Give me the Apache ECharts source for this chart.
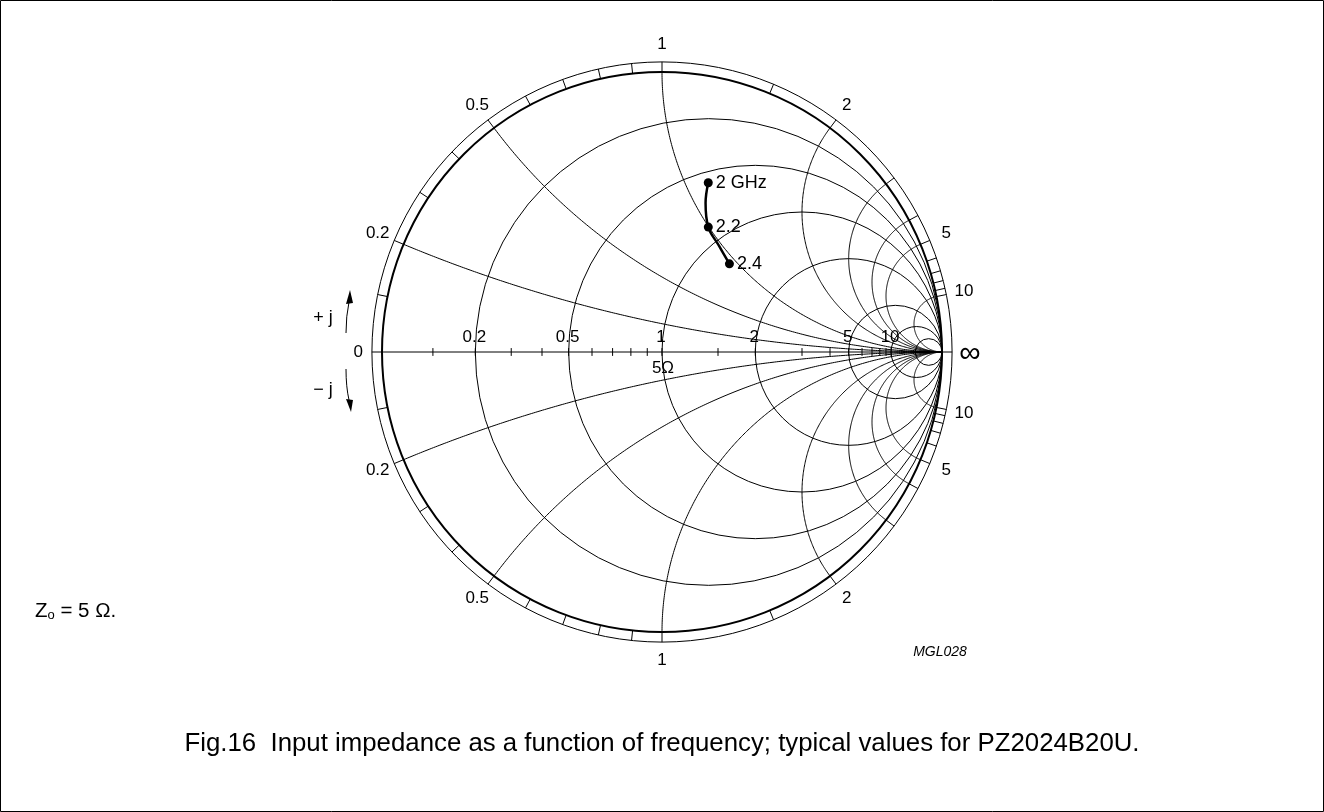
<!DOCTYPE html>
<html>
<head>
<meta charset="utf-8">
<style>
  html, body { margin: 0; padding: 0; background: #fff; }
  #chart { width: 1324px; height: 812px; }
</style>
<script src="https://cdn.jsdelivr.net/npm/echarts@6/dist/echarts.min.js"></script>
</head>
<body>
<div id="chart"></div>
<script>
// reference impedance (ohm)
var Z0 = 5;
// smith grid, normalised values
var resistances = [0.2, 0.5, 1, 2, 5, 10, 20];
var reactances = [0.2, 0.5, 1, 2, 3, 4, 5, 10];
var axisTicks = [0.1, 0.2, 0.3, 0.4, 0.5, 0.6, 0.7, 0.8, 0.9, 1, 1.5, 2, 3, 4, 5, 6, 7, 8, 9, 10];
var axisLabels = [0.2, 0.5, 1, 2, 5, 10];
var ringTicks = [0.1, 0.2, 0.3, 0.4, 0.5, 0.6, 0.7, 0.8, 0.9, 1, 1.5, 2, 3, 4, 5, 6, 7, 8, 9, 10];
var ringLabels = [0.2, 0.5, 1, 2, 5, 10];
// input impedance trace (ohm), '' = unlabelled point
var freqLabels = ['2 GHz', '', '2.2', '', '2.4'];
var inR = [2.86, 3.48, 4.32, 5.19, 6.24];
var inX = [5.69, 5.34, 4.98, 4.88, 4.66];

var RING = 1.036;   // outer ring radius
var LAB = 1.1;      // ring label radius
var TICK = 0.014;
var FONT = "'Liberation Sans', Arial, sans-serif";

// z = r + jx  ->  reflection coefficient
function gamma(r, x) {
  var d = (r + 1) * (r + 1) + x * x;
  return [(r * r - 1 + x * x) / d, 2 * x / d];
}

function arcPoints(x) {
  var s = x < 0 ? -1 : 1, ax = Math.abs(x);
  var rho = 1 / ax;
  var e = gamma(0, ax);
  var a0 = -Math.PI / 2;
  var a1 = Math.atan2(e[1] - rho, e[0] - 1);
  if (a1 > a0) a1 -= 2 * Math.PI;
  var pts = [];
  for (var i = 0; i <= 240; i++) {
    var a = a0 + (a1 - a0) * i / 240;
    pts.push([1 + rho * Math.cos(a), s * (rho + rho * Math.sin(a))]);
  }
  return pts;
}

var signed = [];
reactances.forEach(function (v) { signed.push([v]); signed.push([-v]); });
var signedRing = [];
ringTicks.forEach(function (v) { signedRing.push([v]); signedRing.push([-v]); });
var signedLab = [];
ringLabels.forEach(function (v) { signedLab.push([v]); signedLab.push([-v]); });

var curve = freqLabels.map(function (f, i) {
  var item = { name: f, value: gamma(inR[i] / Z0, inX[i] / Z0) };
  if (!f) { item.symbol = 'none'; item.label = { show: false }; }
  return item;
});

var thin = { fill: null, stroke: '#000', lineWidth: 1 };

function txt(p, text, size) {
  return {
    type: 'text', x: p[0], y: p[1],
    style: { text: text, fill: '#000', font: size + 'px ' + FONT,
      textAlign: 'center', textVerticalAlign: 'middle', align: 'center', verticalAlign: 'middle' }
  };
}

function gtext(x, y, text, font) {
  return { type: 'text', x: x, y: y,
    style: { text: text, fill: '#000', font: font,
      textAlign: 'center', textVerticalAlign: 'middle', align: 'center', verticalAlign: 'middle' } };
}

var chart = echarts.init(document.getElementById('chart'));

var option = {
  animation: false,
  backgroundColor: '#fff',
  grid: { left: 312, top: 2, width: 700, height: 700 },
  xAxis: { type: 'value', min: -1.25, max: 1.25, show: false },
  yAxis: { type: 'value', min: -1.25, max: 1.25, show: false },
  graphic: [
    { type: 'rect', shape: { x: 0.5, y: 0.5, width: 1323, height: 811 },
      style: { fill: null, stroke: '#000', lineWidth: 1 } },
    { type: 'text', x: 35, y: 611,
      style: { text: '{a|Z}{s|o}{a| = 5 Ω.}', fill: '#000',
        textVerticalAlign: 'middle', verticalAlign: 'middle',
        rich: { a: { font: '20.5px ' + FONT }, s: { font: '13px ' + FONT, padding: [9, 0, 0, 0] } } } },
    gtext(940, 652, 'MGL028', 'italic 14px ' + FONT),
    gtext(662, 744, 'Fig.16  Input impedance as a function of frequency; typical values for PZ2024B20U.', '25.8px ' + FONT),
    gtext(323, 318, '+ j', '18px ' + FONT),
    gtext(323, 390, '− j', '18px ' + FONT),
    { type: 'bezierCurve', shape: { x1: 346, y1: 333, x2: 349, y2: 302, cpx1: 346, cpy1: 316 },
      style: { stroke: '#000', lineWidth: 1, fill: null } },
    { type: 'polygon', shape: { points: [[350, 290], [346, 304], [353, 303]] }, style: { fill: '#000' } },
    { type: 'bezierCurve', shape: { x1: 346, y1: 369, x2: 349, y2: 400, cpx1: 346, cpy1: 387 },
      style: { stroke: '#000', lineWidth: 1, fill: null } },
    { type: 'polygon', shape: { points: [[351, 412], [346, 399], [353, 400]] }, style: { fill: '#000' } }
  ],
  series: [
    {
      // chart boundary and outer ring
      type: 'custom', silent: true, data: [[1, 2], [RING, 1]],
      renderItem: function (params, api) {
        var c = api.coord([0, 0]);
        var rad = api.size([api.value(0), 0])[0];
        return { type: 'circle', shape: { cx: c[0], cy: c[1], r: rad },
          style: { fill: null, stroke: '#000', lineWidth: api.value(1) } };
      }
    },
    {
      // real axis
      type: 'custom', silent: true, data: [[-RING, RING]],
      renderItem: function (params, api) {
        var a = api.coord([api.value(0), 0]), b = api.coord([api.value(1), 0]);
        return { type: 'line', shape: { x1: a[0], y1: a[1], x2: b[0], y2: b[1] }, style: thin };
      }
    },
    {
      // constant resistance circles
      type: 'custom', silent: true, data: resistances.map(function (v) { return [v]; }),
      renderItem: function (params, api) {
        var r = api.value(0);
        var c = api.coord([r / (1 + r), 0]);
        var rad = api.size([1 / (1 + r), 0])[0];
        return { type: 'circle', shape: { cx: c[0], cy: c[1], r: rad }, style: thin };
      }
    },
    {
      // constant reactance arcs
      type: 'custom', silent: true, data: signed,
      renderItem: function (params, api) {
        var pts = arcPoints(api.value(0)).map(function (p) { return api.coord(p); });
        return { type: 'polyline', shape: { points: pts }, style: thin };
      }
    },
    {
      // ticks on the real axis
      type: 'custom', silent: true, data: axisTicks.map(function (v) { return [v]; }),
      renderItem: function (params, api) {
        var g = gamma(api.value(0), 0)[0];
        var a = api.coord([g, TICK]), b = api.coord([g, -TICK]);
        return { type: 'line', shape: { x1: a[0], y1: a[1], x2: b[0], y2: b[1] }, style: thin };
      }
    },
    {
      // ticks in the outer ring
      type: 'custom', silent: true, data: signedRing,
      renderItem: function (params, api) {
        var g = gamma(0, api.value(0));
        var a = api.coord(g), b = api.coord([g[0] * RING, g[1] * RING]);
        return { type: 'line', shape: { x1: a[0], y1: a[1], x2: b[0], y2: b[1] }, style: thin };
      }
    },
    {
      // resistance labels
      type: 'custom', silent: true, data: axisLabels.map(function (v) { return [v]; }),
      renderItem: function (params, api) {
        var r = api.value(0);
        var p = api.coord([gamma(r, 0)[0], 0]);
        return txt([p[0] - 1, p[1] - 15], String(r), 17);
      }
    },
    {
      // reactance labels around the ring
      type: 'custom', silent: true, data: signedLab,
      renderItem: function (params, api) {
        var x = api.value(0);
        var g = gamma(0, x);
        var p = api.coord([g[0] * LAB, g[1] * LAB]);
        return txt(p, String(Math.abs(x)), 17);
      }
    },
    {
      // 0, infinity and reference impedance
      type: 'custom', silent: true, data: [[-1, 0], [1, 1], [0, 2]],
      renderItem: function (params, api) {
        var k = api.value(1);
        if (k === 0) return txt(api.coord([-1.085, 0]), '0', 17);
        if (k === 1) return txt(api.coord([LAB, -0.005]), '∞', 30);
        var p = api.coord([0, 0]);
        return txt([p[0] + 1, p[1] + 16], Z0 + 'Ω', 17);
      }
    },
    {
      type: 'line',
      data: curve,
      smooth: 0.4,
      symbol: 'circle',
      symbolSize: 9,
      itemStyle: { color: '#000' },
      lineStyle: { color: '#000', width: 2.5 },
      label: { show: true, position: 'right', distance: 3, color: '#000',
        fontFamily: FONT, fontSize: 18, formatter: function (p) { return p.name; } },
      z: 5
    }
  ]
};

chart.setOption(option);
</script>
</body>
</html>
